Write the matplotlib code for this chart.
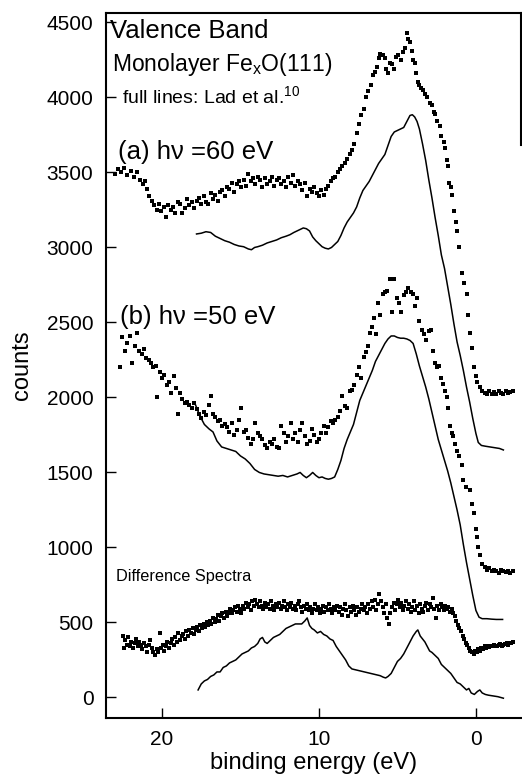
import numpy as np
import matplotlib
matplotlib.use('Agg')
import matplotlib.pyplot as plt

plt.rcParams['font.family'] = ['Liberation Sans', 'DejaVu Sans']

## measured spectrum (a), hv = 60 eV
a_dot_be = [23.0, 22.8, 22.6, 22.4, 22.2, 22.0, 21.8, 21.6, 21.4, 21.2, 21.1, 20.95, 20.8, 20.65, 20.5,
            20.35, 20.2, 20.05, 19.9, 19.75, 19.6, 19.45, 19.3, 19.15, 19.0, 18.85, 18.7, 18.55, 18.4,
            18.25, 18.1, 17.95, 17.8, 17.65, 17.5, 17.35, 17.2, 17.05, 16.9, 16.75, 16.6, 16.45, 16.3,
            16.15, 16.0, 15.85, 15.7, 15.55, 15.4, 15.25, 15.1, 14.95, 14.8, 14.65, 14.5, 14.35, 14.2,
            14.05, 13.9, 13.75, 13.6, 13.45, 13.3, 13.15, 13.0, 12.85, 12.7, 12.55, 12.4, 12.25, 12.1,
            11.95, 11.8, 11.65, 11.5, 11.35, 11.2, 11.05, 10.9, 10.75, 10.6, 10.45, 10.3, 10.15, 10.0,
            9.85, 9.7, 9.55, 9.4, 9.25, 9.1, 8.95, 8.8, 8.65, 8.5, 8.35, 8.2, 8.05, 7.9, 7.75, 7.6,
            7.45, 7.3, 7.15, 7.0, 6.85, 6.7, 6.55, 6.4, 6.3, 6.2, 6.1, 5.95, 5.8, 5.7, 5.6, 5.45, 5.35,
            5.2, 5.1, 4.95, 4.8, 4.65, 4.5, 4.4, 4.3, 4.2, 4.1, 4.0, 3.9, 3.8, 3.7, 3.6, 3.5, 3.4,
            3.25, 3.1, 2.95, 2.8, 2.7, 2.6, 2.45, 2.3, 2.2, 2.05, 1.95, 1.85, 1.75, 1.7, 1.6, 1.5,
            1.4, 1.3, 1.2, 1.1, 0.9, 0.75, 0.57, 0.5, 0.35, 0.25, 0.1, 0.0, -0.1, -0.25, -0.4, -0.55,
            -0.7, -0.85, -1.0, -1.15, -1.3, -1.45, -1.6, -1.75, -1.9, -2.05, -2.2, -2.35]
a_dot_cts = [3490, 3520, 3500, 3530, 3480, 3510, 3470, 3500, 3450, 3420, 3440, 3390, 3340, 3310, 3280,
             3250, 3290, 3240, 3270, 3200, 3280, 3250, 3270, 3230, 3300, 3290, 3230, 3260, 3320,
             3280, 3300, 3260, 3310, 3330, 3290, 3340, 3300, 3290, 3360, 3320, 3350, 3310, 3370,
             3380, 3340, 3400, 3390, 3430, 3370, 3420, 3440, 3400, 3450, 3410, 3490, 3440, 3460,
             3420, 3470, 3450, 3400, 3460, 3420, 3440, 3470, 3410, 3450, 3460, 3420, 3440, 3400,
             3470, 3430, 3480, 3410, 3440, 3420, 3380, 3430, 3340, 3390, 3370, 3400, 3360, 3340,
             3380, 3350, 3390, 3410, 3440, 3460, 3470, 3500, 3520, 3540, 3560, 3590, 3620, 3650, 3690, 3760,
             3820, 3880, 3920, 4000, 4040, 4080, 4150, 4170, 4200, 4260, 4290, 4280, 4260, 4190, 4160, 4230, 4220,
             4190, 4270, 4280, 4250, 4300, 4330, 4430, 4390, 4370, 4310, 4250, 4230, 4160, 4100, 4080, 4060, 4050,
             4020, 4000, 3960, 3950, 3900, 3890, 3840, 3810, 3740, 3700, 3660, 3580, 3540, 3430, 3400, 3350,
             3240, 3170, 3110, 3000, 2830, 2760, 2690, 2550, 2430, 2330, 2200, 2140, 2100, 2070, 2040, 2030,
             2020, 2040, 2025, 2035, 2020, 2040, 2030, 2025, 2040, 2030, 2035, 2040]

## Lad et al. reference curve for (a)
a_ref_be = [17.8, 17.5, 17.2, 16.9, 16.6, 16.3, 16.0, 15.7, 15.4, 15.1, 14.8, 14.5, 14.3, 14.1, 13.9,
            13.6, 13.3, 13.0, 12.7, 12.4, 12.1, 11.85, 11.6, 11.3, 11.0, 10.8, 10.6, 10.4, 10.2, 10.0,
            9.8, 9.6, 9.4, 9.2, 9.0, 8.8, 8.6, 8.4, 8.2, 8.0, 7.8, 7.6, 7.4, 7.2, 7.0, 6.8, 6.6, 6.4,
            6.2, 6.0, 5.8, 5.6, 5.4, 5.2, 5.0, 4.8, 4.6, 4.4, 4.2, 4.05, 3.9, 3.75, 3.6, 3.4, 3.2, 3.0,
            2.8, 2.6, 2.4, 2.2, 2.0, 1.8, 1.6, 1.4, 1.2, 1.0, 0.8, 0.6, 0.4, 0.2, 0.0, -0.15, -0.35,
            -0.6, -0.9, -1.2, -1.5, -1.75]
a_ref_cts = [3090, 3095, 3105, 3100, 3075, 3060, 3045, 3035, 3020, 3010, 3005, 2990, 2985, 3000, 3005,
             3015, 3030, 3040, 3050, 3065, 3075, 3085, 3100, 3115, 3130, 3125, 3110, 3070, 3045, 3025,
             3005, 2995, 2990, 3000, 3020, 3040, 3080, 3130, 3170, 3200, 3230, 3270, 3330, 3380, 3410, 3440, 3480, 3520,
             3560, 3590, 3620, 3680, 3740, 3770, 3780, 3790, 3800, 3840, 3880, 3885, 3870, 3840, 3790, 3690, 3580, 3450,
             3330, 3200, 3080, 2950, 2860, 2740, 2620, 2490, 2370, 2280, 2180, 2070, 1970, 1860, 1760, 1700, 1680,
             1675, 1670, 1665, 1660, 1650]

## measured spectrum (b), hv = 50 eV
b_dot_be = [22.7, 22.55, 22.35, 22.2, 22.05, 21.9, 21.75, 21.6, 21.45, 21.3, 21.15, 21.0, 20.85, 20.7,
            20.55, 20.4, 20.3, 20.15, 20.0, 19.85, 19.7, 19.55, 19.4, 19.25, 19.1, 19.0, 18.85, 18.7,
            18.55, 18.4, 18.25, 18.1, 17.95, 17.8, 17.65, 17.5, 17.35, 17.2, 17.0, 16.9, 16.75, 16.6,
            16.45, 16.3, 16.15, 16.0, 15.85, 15.7, 15.55, 15.4, 15.25, 15.1, 14.95, 14.8, 14.65, 14.5,
            14.35, 14.2, 14.05, 13.9, 13.75, 13.6, 13.45, 13.3, 13.15, 13.0, 12.85, 12.7, 12.55, 12.4,
            12.25, 12.1, 11.95, 11.8, 11.65, 11.5, 11.35, 11.2, 11.05, 10.9, 10.75, 10.6, 10.45, 10.3,
            10.15, 10.0, 9.85, 9.7, 9.55, 9.4, 9.25, 9.1, 8.95, 8.8, 8.65, 8.5, 8.35, 8.2, 8.05, 7.9,
            7.75, 7.6, 7.45, 7.3, 7.15, 7.0, 6.85, 6.75, 6.6, 6.5, 6.35, 6.25, 6.1, 5.95, 5.8, 5.65,
            5.5, 5.35, 5.2, 5.05, 4.9, 4.75, 4.6, 4.45, 4.3, 4.15, 4.0, 3.9, 3.75, 3.6, 3.45, 3.3, 3.15,
            3.0, 2.85, 2.75, 2.6, 2.5, 2.35, 2.2, 2.1, 1.95, 1.85, 1.78, 1.66, 1.55, 1.47, 1.34, 1.2,
            1.1, 0.9, 0.83, 0.6, 0.4, 0.25, 0.1, 0.0, -0.06, -0.15, -0.25, -0.4, -0.55, -0.7, -0.85,
            -1.0, -1.15, -1.3, -1.45, -1.6, -1.75, -1.9, -2.05, -2.2, -2.35]
b_dot_cts = [2200, 2400, 2310, 2360, 2410, 2230, 2340, 2430, 2310, 2290, 2320, 2260, 2250, 2230,
             2200, 2210, 2000, 2170, 2130, 2150, 2080, 2100, 2030, 2140, 2060, 1890, 2030, 1990,
             1960, 1970, 1950, 1930, 1960, 1920, 1890, 1860, 1900, 1880, 1950, 2010, 1890, 1870,
             1840, 1850, 1810, 1820, 1800, 1770, 1830, 1750, 1780, 1850, 1930, 1770, 1780, 1730,
             1690, 1720, 1830, 1760, 1740, 1720, 1680, 1660, 1700, 1690, 1720, 1670, 1660, 1810,
             1760, 1700, 1740, 1830, 1720, 1760, 1700, 1780, 1830, 1740, 1690, 1710, 1790, 1750,
             1700, 1720, 1760, 1810, 1760, 1800, 1840, 1830, 1850, 1870, 1910, 2010, 1940, 1930, 2040, 2050,
             2080, 2150, 2200, 2130, 2270, 2300, 2340, 2430, 2470, 2530, 2420, 2630, 2550, 2690, 2700, 2710,
             2790, 2570, 2790, 2660, 2630, 2570, 2680, 2700, 2730, 2700, 2690, 2610, 2660, 2510, 2450, 2420, 2380,
             2440, 2450, 2310, 2230, 2200, 2210, 2130, 2090, 2040, 2000, 1930, 1810, 1760, 1740, 1690, 1640,
             1610, 1550, 1450, 1400, 1380, 1290, 1230, 1120, 1070, 1000, 950, 890, 870, 850, 860,
             840, 850, 845, 830, 850, 840, 835, 845, 830, 840]

## Lad et al. reference curve for (b)
b_ref_be = [17.9, 17.6, 17.3, 17.0, 16.75, 16.5, 16.2, 15.9, 15.6, 15.3, 15.0, 14.7, 14.4, 14.1, 13.8,
            13.5, 13.2, 12.9, 12.6, 12.3, 12.0, 11.7, 11.4, 11.2, 11.0, 10.8, 10.6, 10.4, 10.2, 10.0,
            9.8, 9.6, 9.4, 9.2, 9.0, 8.8, 8.6, 8.4, 8.2, 8.0, 7.8, 7.6, 7.4, 7.2, 7.0, 6.8, 6.6, 6.4,
            6.2, 6.0, 5.8, 5.6, 5.4, 5.2, 5.0, 4.8, 4.6, 4.4, 4.2, 4.0, 3.8, 3.6, 3.4, 3.2, 3.0, 2.8,
            2.6, 2.4, 2.2, 2.0, 1.8, 1.6, 1.4, 1.2, 1.0, 0.8, 0.6, 0.4, 0.2, 0.0, -0.2, -0.4, -0.7,
            -1.0, -1.3, -1.7]
b_ref_cts = [1960, 1880, 1820, 1790, 1770, 1710, 1670, 1660, 1650, 1640, 1610, 1590, 1560, 1520, 1500,
             1490, 1485, 1480, 1475, 1480, 1470, 1480, 1490, 1500, 1480, 1465, 1480, 1500, 1480, 1465,
             1470, 1460, 1455, 1460, 1470, 1520, 1580, 1660, 1720, 1770, 1820, 1900, 1980, 2030, 2080, 2130, 2180, 2240,
             2280, 2320, 2360, 2390, 2410, 2410, 2400, 2395, 2395, 2390, 2380, 2360, 2290, 2210, 2140, 2070, 1990, 1900,
             1810, 1720, 1650, 1580, 1510, 1430, 1340, 1250, 1150, 1020, 900, 790, 680, 580, 535, 525, 525,
             522, 520, 520]

## difference spectra
d_dot_be = [22.5, 22.45, 22.35, 22.25, 22.15, 22.05, 21.95, 21.85, 21.75, 21.65, 21.55, 21.45, 21.35,
            21.25, 21.15, 21.05, 20.95, 20.85, 20.75, 20.65, 20.55, 20.45, 20.35, 20.25, 20.15, 20.05,
            19.95, 19.85, 19.75, 19.65, 19.55, 19.45, 19.35, 19.25, 19.15, 19.05, 18.95, 18.85, 18.75,
            18.65, 18.55, 18.45, 18.35, 18.25, 18.15, 18.05, 17.95, 17.85, 17.75, 17.65, 17.55, 17.45,
            17.35, 17.25, 17.15, 17.05, 16.95, 16.85, 16.75, 16.65, 16.55, 16.45, 16.35, 16.25, 16.15,
            16.05, 15.95, 15.85, 15.75, 15.65, 15.55, 15.45, 15.35, 15.25, 15.15, 15.05, 14.95, 14.85,
            14.75, 14.65, 14.55, 14.45, 14.35, 14.25, 14.15, 14.05, 13.95, 13.85, 13.75, 13.65, 13.55,
            13.45, 13.35, 13.25, 13.15, 13.05, 12.95, 12.85, 12.75, 12.65, 12.55, 12.45, 12.35, 12.25,
            12.15, 12.05, 11.95, 11.85, 11.75, 11.65, 11.55, 11.45, 11.35, 11.25, 11.15, 11.05, 10.95,
            10.85, 10.75, 10.65, 10.55, 10.45, 10.35, 10.25, 10.15, 10.05, 9.95, 9.85, 9.75, 9.65, 9.55,
            9.45, 9.35, 9.25, 9.15, 9.05, 8.95, 8.85, 8.75, 8.65, 8.55, 8.45, 8.35, 8.25, 8.15, 8.05,
            7.95, 7.85, 7.75, 7.65, 7.55, 7.45, 7.35, 7.25, 7.15, 7.05, 6.95, 6.85, 6.75, 6.65, 6.55,
            6.45, 6.35, 6.25, 6.15, 6.05, 5.95, 5.85, 5.75, 5.65, 5.55, 5.45, 5.35, 5.25, 5.15, 5.05,
            4.95, 4.85, 4.75, 4.65, 4.55, 4.45, 4.35, 4.25, 4.15, 4.05, 3.95, 3.85, 3.75, 3.65, 3.55,
            3.45, 3.35, 3.25, 3.15, 3.05, 2.95, 2.85, 2.75, 2.65, 2.55, 2.45, 2.35, 2.25, 2.15, 2.05,
            1.95, 1.85, 1.75, 1.65, 1.55, 1.45, 1.35, 1.25, 1.15, 1.05, 0.95, 0.85, 0.75, 0.65, 0.55,
            0.45, 0.35, 0.25, 0.15, 0.05, -0.05, -0.15, -0.25, -0.35, -0.45, -0.55, -0.65, -0.75, -0.85,
            -0.95, -1.05, -1.15, -1.25, -1.35, -1.45, -1.55, -1.65, -1.75, -1.85, -1.95, -2.05, -2.15,
            -2.25, -2.35]
d_dot_cts = [410, 330, 380, 350, 400, 340, 370, 330, 360, 390, 340, 370, 350,
             320, 360, 340, 300, 350, 380, 330, 300, 280, 320, 300, 430, 330,
             350, 310, 340, 370, 330, 360, 390, 350, 400, 370, 430, 380, 410,
             420, 390, 440, 410, 450, 430, 460, 420, 450, 470, 440, 480, 460,
             490, 470, 500, 480, 510, 490, 530, 500, 520, 550, 510, 540, 560,
             530, 570, 540, 560, 590, 560, 580, 600, 570, 610, 590, 560, 610,
             590, 630, 600, 620, 580, 640, 610, 650, 620, 600, 640, 610, 590,
             630, 600, 620, 590, 640, 610, 580, 620, 600, 630, 590, 610, 640,
             600, 580, 620, 600, 630, 590, 610, 580, 620, 640, 600, 570, 610,
             590, 620, 580, 600, 560, 590, 620, 580, 600, 560, 590, 610, 570, 600,
             580, 620, 590, 560, 600, 580, 610, 570, 600, 550, 590, 620, 580, 540, 600,
             570, 610, 580, 550, 600, 570, 590, 620, 580, 600, 560, 620, 590, 640, 600,
             650, 580, 620, 690, 640, 600, 560, 620, 530, 490, 560, 600, 630, 580, 620,
             650, 600, 630, 580, 610, 640, 590, 620, 570, 600, 640, 580, 610, 560, 620,
             590, 570, 610, 630, 580, 620, 600, 660, 590, 530, 610, 580, 620, 600, 580,
             610, 590, 600, 570, 590, 560, 540, 510, 480, 460, 440, 410, 390, 360, 350,
             330, 310, 300, 290, 310, 300, 320, 310, 330, 320, 340, 330, 340, 335,
             345, 340, 350, 345, 340, 350, 355, 345, 350, 355, 360, 350, 365,
             360, 370]

d_ref_be = [17.7, 17.5, 17.3, 17.1, 16.9, 16.7, 16.5, 16.3, 16.1, 15.9, 15.7, 15.5, 15.3, 15.1, 14.9,
            14.7, 14.5, 14.3, 14.1, 13.9, 13.75, 13.6, 13.45, 13.3, 13.1, 12.9, 12.7, 12.5, 12.3, 12.1,
            11.9, 11.7, 11.5, 11.3, 11.1, 10.9, 10.75, 10.6, 10.45, 10.3, 10.1, 9.9, 9.7, 9.5, 9.3,
            9.1, 8.9, 8.7, 8.5, 8.3, 8.1, 7.9, 7.7, 7.5, 7.3, 7.1, 6.9, 6.7, 6.5, 6.3, 6.1, 5.9, 5.75,
            5.6, 5.4, 5.2, 5.0, 4.8, 4.6, 4.4, 4.2, 4.0, 3.8, 3.7, 3.55, 3.4, 3.25, 3.1, 2.95, 2.8,
            2.6, 2.4, 2.2, 2.0, 1.8, 1.6, 1.4, 1.2, 1.0, 0.8, 0.6, 0.45, 0.3, 0.1, -0.1, -0.25, -0.4,
            -0.6, -0.8, -1.1, -1.4, -1.75]
d_ref_cts = [50, 90, 110, 120, 140, 150, 170, 170, 200, 210, 230, 240, 250, 270, 290,
             300, 310, 330, 340, 360, 390, 400, 370, 360, 380, 400, 410, 420, 440, 460,
             470, 480, 490, 490, 490, 510, 530, 480, 460, 450, 430, 440, 420, 410, 390,
             380, 340, 310, 280, 250, 210, 190, 185, 180, 175, 170, 165, 160, 155, 150, 145, 135, 130,
             140, 160, 200, 240, 260, 290, 330, 370, 410, 440, 450, 410, 390, 370, 340, 310, 300,
             280, 260, 220, 200, 180, 160, 130, 100, 90, 70, 50, 60, 30, 20, 40, 50, 30,
             20, 15, 10, 5, -5]

y_ticks = [0, 500, 1000, 1500, 2000, 2500, 3000, 3500, 4000, 4500]
x_ticks = [20, 10, 0]

fig = plt.figure(figsize=(5.22, 7.80), dpi=100)
ax = fig.add_axes([0.203, 0.0795, 0.795, 0.9038])

for be, cts in [(a_dot_be, a_dot_cts), (b_dot_be, b_dot_cts), (d_dot_be, d_dot_cts)]:
    ax.plot(be, cts, 's', color='black', ms=3.0, mew=0)
for be, cts in [(a_ref_be, a_ref_cts), (b_ref_be, b_ref_cts), (d_ref_be, d_ref_cts)]:
    ax.plot(be, cts, '-', color='black', lw=1.1)

ax.set_xlim(23.57, -2.87)
ax.set_ylim(-137, 4563)
ax.set_xticks(x_ticks)
ax.set_yticks(y_ticks)
ax.tick_params(direction='in', length=7, width=1, labelsize=15, pad=9)
for side in ['left', 'bottom', 'top', 'right']:
    ax.spines[side].set_linewidth(1.5)
ax.spines['right'].set_bounds(3680, 4563)

ax.set_xlabel('binding energy (eV)', fontsize=17, labelpad=2)
ax.set_ylabel('counts', fontsize=17, labelpad=10)

ax.text(23.31, 4395, 'Valence Band', fontsize=18.5, va='baseline')
ax.text(23.18, 4177, r'Monolayer Fe$_\mathregular{x}$O(111)', fontsize=16.5, va='baseline')
ax.text(22.55, 3957, r'full lines: Lad et al.$^\mathregular{10}$', fontsize=14, va='baseline')
ax.text(22.8, 3590, '(a) hν =60 eV', fontsize=18.5, va='baseline')
ax.text(22.67, 2490, '(b) hν =50 eV', fontsize=18.5, va='baseline')
ax.text(22.9, 777, 'Difference Spectra', fontsize=11.7, va='baseline')

plt.savefig('out.png', dpi=100)
